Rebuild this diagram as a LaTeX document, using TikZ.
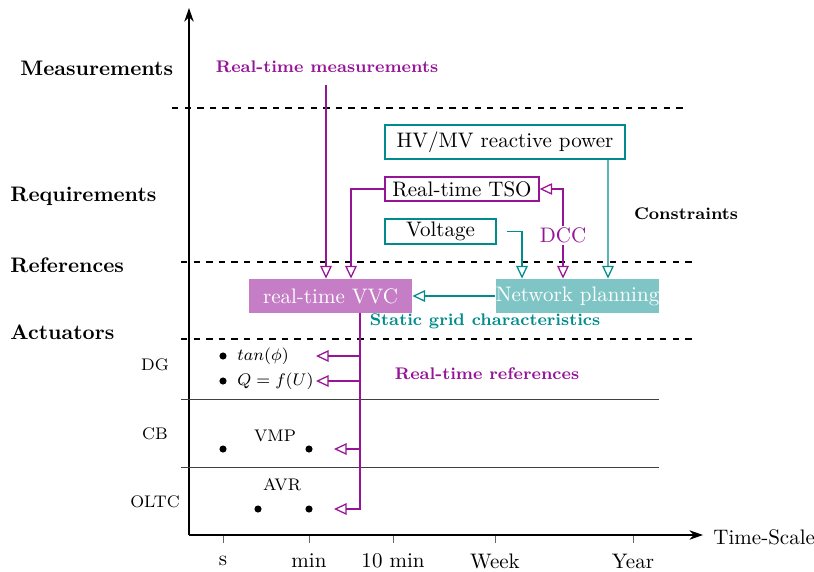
\documentclass[tikz,border=0pt]{standalone}
\usetikzlibrary{arrows.meta,calc}
\definecolor{vio}{RGB}{150,20,150}
\definecolor{tl}{RGB}{0,140,140}
\def\u{0.476pt}
\tikzset{
  axis/.style={semithick,-{Stealth[length=6.5pt,width=4.5pt]}},
  oarrow/.style={semithick,-{Triangle[open,length=6pt,width=5.5pt]}},
  sepline/.style={semithick,dashed},
  rowline/.style={black!75},
  tick/.style={black!60},
  lefttitle/.style={font=\bfseries,anchor=west},
  rowlabel/.style={font=\footnotesize},
  obox/.style={draw,semithick,fill=white,inner sep=0pt},
  fbox/.style={inner sep=0pt,text=white},
  smallbold/.style={font=\footnotesize\bfseries},
  dot/.style={circle,fill=black,inner sep=0pt,minimum size=3.4pt},
}
\begin{document}
\begin{tikzpicture}[x=\u,y=-\u]
\useasboundingbox (0,0) rectangle (814,571);
% axes
\coordinate (o) at (189,535);
\coordinate (ytop) at (189,8);
\coordinate (xend) at (703,535);
\draw[axis] (o) -- (ytop);
\draw[axis] (o) -- (xend);
\node[anchor=west] (ts) at (706,537) {Time-Scale};
% ticks
\foreach \xx/\lab/\nm in {223/s/ts1,309/min/ts2,393/10 min/ts3,495/Week/ts4,633/Year/ts5}{
  \draw[tick] (\xx,536) -- (\xx,543);
  \node (\nm) at (\xx,561) {\lab};
}
% separators
\coordinate (d1a) at (172,108); \coordinate (d1b) at (686,108);
\coordinate (d2a) at (181,262); \coordinate (d2b) at (694,262);
\coordinate (d3a) at (181,339); \coordinate (d3b) at (694,339);
\draw[sepline] (d1a) -- (d1b);
\draw[sepline] (d2a) -- (d2b);
\draw[sepline] (d3a) -- (d3b);
\coordinate (r1a) at (181,399); \coordinate (r1b) at (659,399);
\coordinate (r2a) at (181,467); \coordinate (r2b) at (659,467);
\draw[rowline] (r1a) -- (r1b);
\draw[rowline] (r2a) -- (r2b);
% left titles
\node[lefttitle] (meas) at (13,68) {Measurements};
\node[lefttitle] (req) at (3,196) {Requirements};
\node[lefttitle] (ref) at (3,265) {References};
\node[lefttitle] (act) at (3,332) {Actuators};
\node[rowlabel] (dg) at (155,365) {DG};
\node[rowlabel] (cb) at (155,434) {CB};
\node[rowlabel] (oltc) at (155,502) {OLTC};
% actuators
\node[dot] (p1) at (223,356) {};
\node[dot] (p2) at (223,381) {};
\node[anchor=west,font=\footnotesize] (tanphi) at (230,356) {$tan(\phi)$};
\node[anchor=west,font=\footnotesize] (qfu) at (230,381) {$Q=f(U)$};
\node[dot] (p3) at (223,449) {};
\node[dot] (p4) at (309,449) {};
\node[font=\footnotesize] (vmp) at (275,436) {VMP};
\node[font=\footnotesize] (avr) at (282,485) {AVR};
\node[dot] (p5) at (258,509) {};
\node[dot] (p6) at (309,509) {};
% boxes
\node[obox,draw=tl,minimum width=240*\u,minimum height=34*\u] (hv) at (505,142) {HV/MV reactive power};
\node[obox,draw=vio,minimum width=154*\u,minimum height=24*\u] (tso) at (462,189) {Real-time TSO};
\node[obox,draw=tl,minimum width=111*\u,minimum height=25*\u] (volt) at (440.5,231.5) {Voltage};
\node[fbox,fill=vio!55,minimum width=163*\u,minimum height=34*\u] (vvc) at (330.5,296) {real-time VVC};
\node[fbox,fill=tl!50,minimum width=163*\u,minimum height=34*\u] (np) at (577.5,296) {Network planning};
% labels
\node[smallbold,text=vio] (rtm) at (327,67) {Real-time measurements};
\node[smallbold] (cons) at (686,214) {Constraints};
\node[smallbold,text=tl] (sgc) at (485,321) {Static grid characteristics};
\node[smallbold,text=vio] (rtr) at (487,374) {Real-time references};
% connectors
\coordinate (m0) at (326,85);
\draw[oarrow,vio] (m0) -- (m0 |- vvc.north);
\draw[oarrow,vio] (tso.west) -| ($(vvc.north)+(20.5,0)$);
\draw[semithick,vio,{Triangle[open,length=6pt,width=5.5pt]}-{Triangle[open,length=6pt,width=5.5pt]}] (tso.east) -| node[pos=0.76,fill=white,inner sep=1pt,text=vio] (dcc) {DCC} ($(np.north)+(-14.5,0)$);
\draw[oarrow,tl] ($(volt.east)+(10,0)$) -| ($(np.north)+(-55.5,0)$);
\draw[oarrow,tl] ($(hv.south)+(103,0)$) -- ($(np.north)+(30.5,0)$);
\draw[oarrow,tl] (np.west) -- (vvc.east);
% trunk
\coordinate (tr) at ($(vvc.south)+(29.5,0)$);
\coordinate (a1) at (316,356);
\coordinate (a2) at (316,381);
\coordinate (a3) at (334,449);
\coordinate (a4) at (334,509);
\draw[oarrow,vio] (tr) |- (a1);
\draw[oarrow,vio] (tr) |- (a2);
\draw[oarrow,vio] (tr) |- (a3);
\draw[oarrow,vio] (tr) |- (a4);
\end{tikzpicture}
\end{document}
